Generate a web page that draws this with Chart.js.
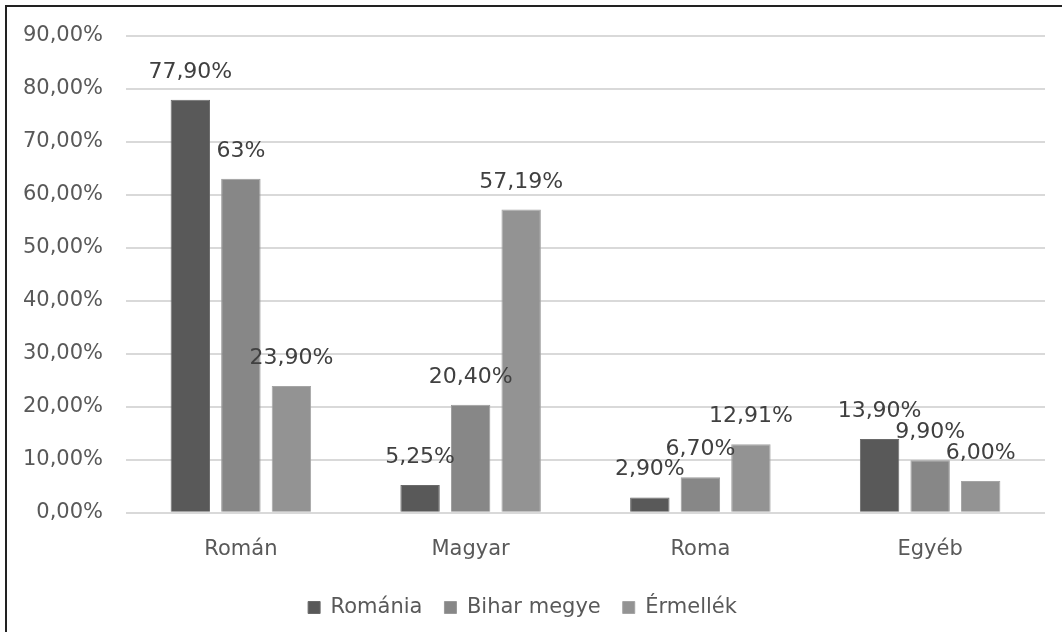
<!DOCTYPE html>
<html>
<head>
<meta charset="utf-8">
<script src="https://cdn.jsdelivr.net/npm/chart.js@4/dist/chart.umd.min.js"></script>
<style>
  body { margin: 0; background: #fff; }
  #wrap { position: relative; width: 1062px; height: 632px; }
  #frame {
    position: absolute; left: 5px; top: 5px; right: -10px; bottom: -10px;
    border-left: 2px solid #222; border-top: 2px solid #222;
    pointer-events: none;
  }
</style>
</head>
<body>
<div id="wrap">
  <canvas id="myChart" width="1062" height="632"></canvas>
  <div id="frame"></div>
</div>
<script>
const kategoriak = ["Román", "Magyar", "Roma", "Egyéb"];
const sorozatNevek = ["Románia", "Bihar megye", "Érmellék"];

const romania = [77.9, 5.25, 2.9, 13.9];
const bihar = [63, 20.4, 6.7, 9.9];
const ermellek = [23.9, 57.19, 12.91, 6.0];

const romaniaCimkek = ["77,90%", "5,25%", "2,90%", "13,90%"];
const biharCimkek = ["63%", "20,40%", "6,70%", "9,90%"];
const ermellekCimkek = ["23,90%", "57,19%", "12,91%", "6,00%"];

const yTicks = [0, 10, 20, 30, 40, 50, 60, 70, 80, 90];

const betu = "'DejaVu Sans', sans-serif";

// saját adatcímke plugin (nincs datalabels)
const adatCimkek = {
  id: "adatCimkek",
  afterDatasetsDraw(chart) {
    const ctx = chart.ctx;
    ctx.save();
    ctx.font = "22px " + betu;
    ctx.fillStyle = "#404040";
    ctx.textAlign = "center";
    ctx.textBaseline = "alphabetic";
    chart.data.datasets.forEach((ds, i) => {
      const meta = chart.getDatasetMeta(i);
      meta.data.forEach((bar, j) => {
        ctx.fillText(ds.cimkek[j], bar.x, bar.y - 22);
      });
    });
    ctx.restore();
  }
};

const datasets = [
  { label: sorozatNevek[0], data: romania, cimkek: romaniaCimkek, backgroundColor: "#595959", borderColor: "#6a6a6a", borderWidth: 1 },
  { label: sorozatNevek[1], data: bihar, cimkek: biharCimkek, backgroundColor: "#878787", borderColor: "#9a9a9a", borderWidth: 1 },
  { label: sorozatNevek[2], data: ermellek, cimkek: ermellekCimkek, backgroundColor: "#939393", borderColor: "#a5a5a5", borderWidth: 1 }
];

const config = {
  type: "bar",
  data: { labels: kategoriak, datasets },
  options: {
    responsive: false,
    animation: false,
    layout: { padding: { top: 26, right: 17, left: 0, bottom: 4 } },
    datasets: { bar: { categoryPercentage: 0.66, barPercentage: 0.78 } },
    plugins: {
      tooltip: { enabled: false },
      legend: {
        position: "bottom",
        labels: {
          boxWidth: 12, boxHeight: 12, padding: 22,
          color: "#595959",
          font: { family: betu, size: 21 }
        }
      }
    },
    scales: {
      y: {
        min: 0, max: 90,
        afterBuildTicks: (s) => { s.ticks = yTicks.map(v => ({ value: v })); },
        afterFit: (s) => { s.width = 126; },
        border: { display: false },
        grid: { color: "#d9d9d9", lineWidth: 2, drawTicks: false },
        ticks: {
          padding: 23,
          color: "#595959",
          font: { family: betu, size: 21 },
          callback: (v) => v.toFixed(2).replace(".", ",") + "%"
        }
      },
      x: {
        afterFit: (s) => { s.height -= 11; },
        border: { display: false },
        grid: { display: false, drawTicks: false },
        ticks: {
          padding: 24,
          color: "#595959",
          font: { family: betu, size: 21 }
        }
      }
    }
  },
  plugins: [adatCimkek]
};

const myChart = new Chart(document.querySelector("#myChart"), config);
</script>
</body>
</html>
